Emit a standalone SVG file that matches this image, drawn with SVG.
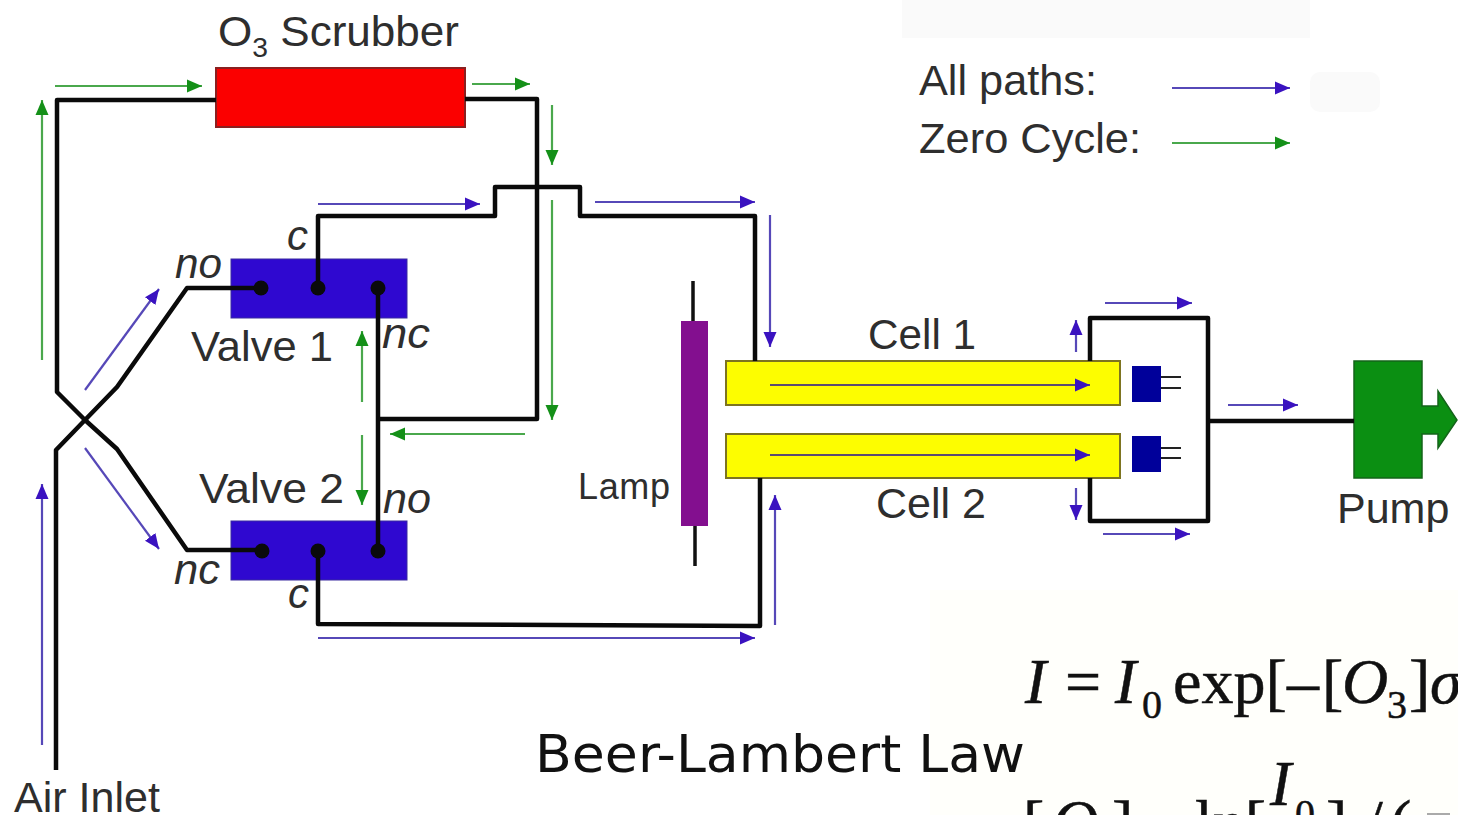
<svg xmlns="http://www.w3.org/2000/svg" width="1458" height="815" viewBox="0 0 1458 815">
<defs>
<marker id="b" markerUnits="userSpaceOnUse" markerWidth="16" markerHeight="14" refX="15" refY="7" orient="auto"><path d="M0 .5L15 7L0 13.5Z" fill="#3a12c0"/></marker>
<marker id="g" markerUnits="userSpaceOnUse" markerWidth="16" markerHeight="14" refX="15" refY="7" orient="auto"><path d="M0 .5L15 7L0 13.5Z" fill="#149018"/></marker>
</defs>
<style>
.w{fill:none;stroke:#0a0a0a;stroke-width:4.5;stroke-linejoin:round}
.bl{fill:none;stroke:#5648b8;stroke-width:2.2;marker-end:url(#b)}
.gr{fill:none;stroke:#4aa84c;stroke-width:2.2;marker-end:url(#g)}
.c{stroke:#5a4a70}
.t{font-family:"Liberation Sans",Arial,sans-serif;fill:#2e2e2e;font-size:42px}
.i{font-style:italic}
.m{font-family:"Liberation Serif","Times New Roman",serif;fill:#111;stroke:#111;stroke-width:.5;font-size:64px}
.s{font-size:40px}
.v{fill:#2f08d0;stroke:#3a2aa0;stroke-width:1}
.y{fill:#fdfd00;stroke:#7d7420;stroke-width:2}
.d{fill:#00009a}
.dot{fill:#0a0a0a}
</style>
<rect width="1458" height="815" fill="#fff"/>
<rect x="902" y="0" width="408" height="38" fill="#fafafa"/>
<rect x="1310" y="72" width="70" height="40" rx="10" fill="#fafafa"/>
<rect x="930" y="590" width="528" height="225" fill="#fffffb"/>
<g id="scrubber"><rect x="216" y="68" width="249" height="59" fill="#fb0000" stroke="#8a2020" stroke-width="2"/>
<text class="t" x="218" y="46" textLength="241" lengthAdjust="spacingAndGlyphs">O<tspan dy="11" style="font-size:27px">3</tspan><tspan dy="-11"> Scrubber</tspan></text></g>
<g id="valve1"><rect class="v" x="231" y="259" width="176" height="59"/>
<text class="t" x="191" y="361" textLength="142" lengthAdjust="spacingAndGlyphs">Valve 1</text><text class="t i" x="175" y="278" textLength="47" lengthAdjust="spacingAndGlyphs">no</text><text class="t i" x="287" y="250">c</text><text class="t i" x="382" y="348" textLength="48" lengthAdjust="spacingAndGlyphs">nc</text></g>
<g id="valve2"><rect class="v" x="231" y="521" width="176" height="59"/>
<text class="t" x="199" y="503" textLength="145" lengthAdjust="spacingAndGlyphs">Valve 2</text><text class="t i" x="383" y="513" textLength="48" lengthAdjust="spacingAndGlyphs">no</text><text class="t i" x="174" y="584" textLength="46" lengthAdjust="spacingAndGlyphs">nc</text><text class="t i" x="288" y="608">c</text></g>
<g id="lamp"><path d="M693 281V321M695 526V566" stroke="#111" stroke-width="3.5"/><rect x="681" y="321" width="27" height="205" fill="#830f8f"/>
<text class="t" x="578" y="499" textLength="92" style="font-size:36px">Lamp</text></g>
<g id="cell1"><rect class="y" x="726" y="361" width="394" height="44"/><text class="t" x="868" y="349" textLength="108" lengthAdjust="spacingAndGlyphs">Cell 1</text>
<rect class="d" x="1132" y="366" width="29" height="36"/><path d="M1161 377H1181M1161 388H1181" stroke="#222" stroke-width="2"/></g>
<g id="cell2"><rect class="y" x="726" y="434" width="394" height="44"/><text class="t" x="876" y="518" textLength="110" lengthAdjust="spacingAndGlyphs">Cell 2</text>
<rect class="d" x="1132" y="436" width="29" height="36"/><path d="M1161 448H1181M1161 458H1181" stroke="#222" stroke-width="2"/></g>
<g id="pump"><path d="M1354 361H1422V406H1438V391L1457 420L1438 448V434H1422V478H1354Z" fill="#0b8f12" stroke="#14641a" stroke-width="1.5"/>
<text class="t" x="1337" y="523" style="font-size:43px">Pump</text></g>
<g id="connectors">
<path class="w" d="M56 770V450L85 420L117 387L187 288H262"/>
<path class="w" d="M216 100H57V392L85 420L117 449L187 550H262"/>
<path class="w" d="M465 99H537V419H380"/>
<path class="w" d="M378 288V551"/>
<path class="w" d="M318 288V216H495V187H580V216H755V361"/>
<path class="w" d="M318 551V624L760 626V478"/>
<path class="w" d="M1090 361V318H1208V521H1090V478"/>
<path class="w" d="M1208 421H1354"/>
<circle class="dot" cx="261" cy="288" r="7.5"/><circle class="dot" cx="318" cy="288" r="7.5"/><circle class="dot" cx="378" cy="288" r="7.5"/>
<circle class="dot" cx="262" cy="551" r="7.5"/><circle class="dot" cx="318" cy="551" r="7.5"/><circle class="dot" cx="378" cy="551" r="7.5"/>
<path class="gr" d="M42 360V100"/>
<path class="gr" d="M55 86H202"/>
<path class="gr" d="M472 84H530"/>
<path class="gr" d="M552 105V165"/>
<path class="gr" d="M552 200V420"/>
<path class="gr" d="M525 434H390"/>
<path class="gr" d="M362 402V331"/>
<path class="gr" d="M362 435V505"/>
<path class="bl" d="M42 745V484"/>
<path class="bl" d="M85 390L159 289"/>
<path class="bl" d="M85 448L159 549"/>
<path class="bl" d="M318 204H480"/>
<path class="bl" d="M595 202H755"/>
<path class="bl" d="M770 215V347"/>
<path class="bl" d="M318 638H755"/>
<path class="bl" d="M775 625V495"/>
<path class="bl c" d="M770 385H1090"/>
<path class="bl c" d="M770 455H1090"/>
<path class="bl" d="M1076 352V320"/>
<path class="bl" d="M1076 488V520"/>
<path class="bl" d="M1105 303H1192"/>
<path class="bl" d="M1103 534H1190"/>
<path class="bl" d="M1228 405H1298"/>
</g>
<g id="legend"><text class="t" x="919" y="95" textLength="178" lengthAdjust="spacingAndGlyphs">All paths:</text><text class="t" x="919" y="153" textLength="222" lengthAdjust="spacingAndGlyphs">Zero Cycle:</text>
<path class="bl" d="M1172 88H1290"/><path class="gr" d="M1172 143H1290"/></g>
<text class="t" x="14" y="812" textLength="146" lengthAdjust="spacingAndGlyphs">Air Inlet</text>
<text x="535" y="772" font-family="'DejaVu Sans',Verdana,sans-serif" font-size="51" fill="#111" textLength="490" lengthAdjust="spacingAndGlyphs">Beer-Lambert Law</text>
<g id="eq">
<text class="m i" x="1025" y="703">I</text><text class="m" x="1065" y="703">=</text><text class="m i" x="1115" y="703">I</text><text class="m s" x="1142" y="718">0</text>
<text class="m" x="1173" y="703">exp[</text><text class="m" x="1287" y="703">–</text><text class="m" x="1322" y="703">[</text><text class="m i" x="1342" y="703">O</text><text class="m s" x="1387" y="718">3</text><text class="m" x="1409" y="703">]</text><text class="m i" x="1430" y="703">σ</text>
<text class="m" x="1023" y="844">[</text><text class="m i" x="1052" y="844">O</text><text class="m" x="1112" y="844">]</text><text class="m" x="1195" y="844">ln[</text><text class="m i" x="1270" y="805">I</text><text class="m s" x="1295" y="827">0</text><text class="m" x="1326" y="844">]</text><text class="m" x="1365" y="844">/</text><text class="m" x="1390" y="844">(</text>
<rect x="1427" y="813" width="23" height="2" fill="#aaa"/>
</g>
</svg>
